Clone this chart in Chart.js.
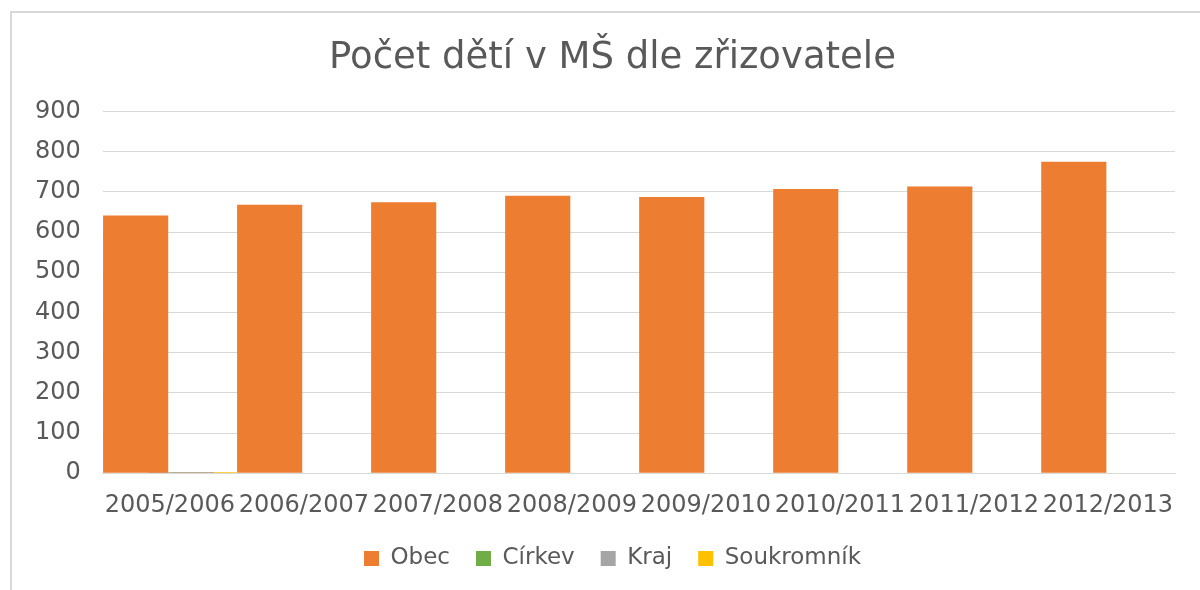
<!DOCTYPE html>
<html>
<head>
<meta charset="utf-8">
<script src="https://cdn.jsdelivr.net/npm/chart.js@4/dist/chart.umd.min.js"></script>
<style>
  html, body { margin: 0; padding: 0; background: #fff; overflow: hidden; }
  #wrap { position: relative; width: 1200px; height: 590px; overflow: hidden; }
  #frame {
    position: absolute; left: 10px; top: 11px; width: 1200px; height: 600px;
    border-top: 2px solid #d9d9d9; border-left: 2px solid #d9d9d9;
    pointer-events: none;
  }
  canvas { position: absolute; left: 0; top: 0; }
</style>
</head>
<body>
<div id="wrap">
  <canvas id="chart" width="1212" height="590"></canvas>
  <div id="frame"></div>
</div>
<script>
// Data
const years = ['2005/2006', '2006/2007', '2007/2008', '2008/2009', '2009/2010', '2010/2011', '2011/2012', '2012/2013'];
const obec = [641, 668, 674, 690, 687, 707, 713, 775];
const cirkev = [0, 0, 0, 0, 0, 0, 0, 0];
const kraj = [3, 0, 0, 0, 0, 0, 0, 0];
const soukromnik = [3, 0, 0, 0, 0, 0, 0, 0];
const yTicks = [0, 100, 200, 300, 400, 500, 600, 700, 800, 900];

const textColor = '#595959';
const gridColor = '#d9d9d9';
const fontFamily = '"DejaVu Sans", sans-serif';

// Excel-like overlapping clustered bars
function makeSet(label, data, color) {
    return {
        label: label,
        data: data,
        backgroundColor: color,
        borderWidth: 0,
        categoryPercentage: 0.68,
        barPercentage: 2.86
    };
}

new Chart(document.getElementById('chart'), {
    type: 'bar',
    data: {
        labels: years,
        datasets: [
            makeSet('Obec', obec, '#ED7D31'),
            makeSet('Církev', cirkev, '#70AD47'),
            makeSet('Kraj', kraj, '#A5A5A5'),
            makeSet('Soukromník', soukromnik, '#FFC000')
        ]
    },
    options: {
        responsive: false,
        animation: false,
        layout: { padding: { left: 13, right: 0, top: 0, bottom: 10 } },
        scales: {
            x: {
                grid: { display: false, drawTicks: false },
                border: { display: true, color: gridColor, width: 1 },
                ticks: {
                    color: textColor,
                    font: { family: fontFamily, size: 24 },
                    padding: 18,
                    maxRotation: 0,
                    autoSkip: false
                },
                afterFit: function(scale) {
                    scale.height -= 17;
                }
            },
            y: {
                min: yTicks[0],
                max: yTicks[yTicks.length - 1],
                afterBuildTicks: function(axis) {
                    axis.ticks = yTicks.map(v => ({ value: v }));
                },
                grid: { color: gridColor, lineWidth: 1, drawTicks: false },
                border: { display: false },
                ticks: {
                    color: textColor,
                    font: { family: fontFamily, size: 24 },
                    padding: 22
                }
            },
            // empty right margin (the original chart is cut off on the right)
            yRight: {
                position: 'right',
                grid: { display: false, drawTicks: false },
                border: { display: false },
                ticks: { display: false },
                afterFit: function(scale) {
                    scale.width = 37;
                }
            }
        },
        plugins: {
            title: {
                display: true,
                text: 'Počet dětí v MŠ dle zřizovatele',
                color: textColor,
                font: { family: fontFamily, size: 37, weight: 'normal' },
                padding: { top: 36, bottom: 31 }
            },
            legend: {
                position: 'bottom',
                labels: {
                    color: textColor,
                    font: { family: fontFamily, size: 23 },
                    boxWidth: 15,
                    boxHeight: 15,
                    padding: 26
                }
            },
            tooltip: { enabled: false }
        }
    }
});
</script>
</body>
</html>
